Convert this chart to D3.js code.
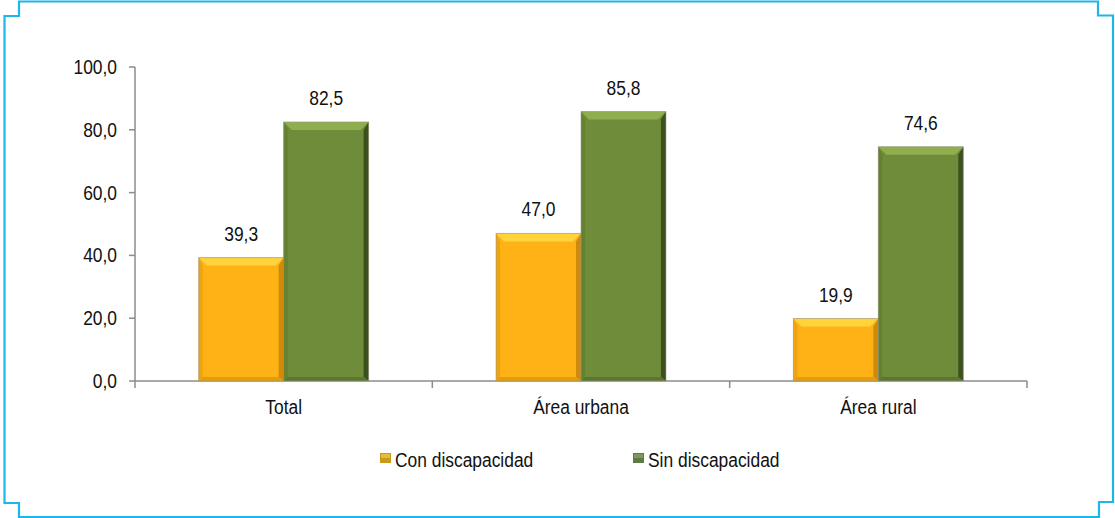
<!DOCTYPE html>
<html>
<head>
<meta charset="utf-8">
<script src="https://cdn.jsdelivr.net/npm/d3@7"></script>
<style>
  html, body { margin: 0; padding: 0; background: #fff; }
  svg { display: block; }
  text { font-family: "Liberation Sans", Arial, sans-serif; fill: #111; }
</style>
</head>
<body>
<svg id="chart" width="1115" height="518"></svg>
<script>
// ---- data ----
const categories = ["Total", "Área urbana", "Área rural"];
const seriesNames = ["Con discapacidad", "Sin discapacidad"];
const conDiscapacidad = [39.3, 47.0, 19.9];
const sinDiscapacidad = [82.5, 85.8, 74.6];
const yTicks = [0, 20, 40, 60, 80, 100];

const seriesValues = [conDiscapacidad, sinDiscapacidad];
const palette = [
  { main: "#FFB216", top: "#FFD33C", left: "#EDA410", right: "#CF8A08", bottom: "#E39C0B", legend: "#C89A1C" },
  { main: "#6F8C3A", top: "#8FAE4D", left: "#63812F", right: "#3C501F", bottom: "#5B7630", legend: "#5E7A45" }
];

const svg = d3.select("#chart");
const W = 1115, H = 518;
const fmt = v => v.toFixed(1).replace(".", ",");
const SX = 0.87;   // horizontal text compression
const FS = 20;

// frame
svg.append("path")
  .attr("d", "M19,1.5 H1098 V15.5 H1113 V502 H1099 V517 H19 V503 H4.5 V16 H19 Z")
  .attr("fill", "none").attr("stroke", "#1DB6EA").attr("stroke-width", 2.2);

const x0 = d3.scaleBand().domain(categories).range([135, 1027]).paddingInner(0).paddingOuter(0);
const x1 = d3.scaleBand().domain(seriesNames).range([0, x0.bandwidth()]).paddingInner(0).paddingOuter(0.75);
const y = d3.scaleLinear().domain([0, 100]).range([381, 67]);

function txt(g, x, yy, s, anchor) {
  return g.append("text")
    .attr("transform", `translate(${x},${yy}) scale(${SX},1)`)
    .attr("text-anchor", anchor)
    .attr("font-size", FS)
    .text(s);
}

// y axis
const axisColor = "#8C8C8C";
const gy = svg.append("g");
gy.append("line").attr("x1", 135).attr("x2", 135).attr("y1", y(100)).attr("y2", y(0))
  .attr("stroke", axisColor).attr("stroke-width", 1.5);
yTicks.forEach(t => {
  gy.append("line").attr("x1", 129).attr("x2", 135).attr("y1", y(t)).attr("y2", y(t))
    .attr("stroke", axisColor).attr("stroke-width", 1.5);
  txt(gy, 117, y(t) + 7, fmt(t), "end");
});

// x axis
const gx = svg.append("g");
gx.append("line").attr("x1", 135).attr("x2", 1027).attr("y1", y(0)).attr("y2", y(0))
  .attr("stroke", axisColor).attr("stroke-width", 1.5);
const bounds = categories.map(c => x0(c)).concat([x0(categories[categories.length - 1]) + x0.bandwidth()]);
bounds.forEach(bx => {
  gx.append("line").attr("x1", bx).attr("x2", bx).attr("y1", y(0)).attr("y2", y(0) + 7)
    .attr("stroke", axisColor).attr("stroke-width", 1.5);
});
categories.forEach(c => {
  txt(gx, x0(c) + x0.bandwidth() / 2, 414, c, "middle");
});

// bars with bevel
const gb = svg.append("g");
categories.forEach((c, ci) => {
  seriesNames.forEach((s, si) => {
    const v = seriesValues[si][ci];
    const bx = x0(c) + x1(s), bw = x1.bandwidth();
    const by = y(v), bb = y(0);
    const p = palette[si];
    const b = 8;
    const g = gb.append("g");
    g.append("rect").attr("x", bx).attr("y", by).attr("width", bw).attr("height", bb - by).attr("fill", p.main);
    // top bevel
    g.append("polygon").attr("points", `${bx},${by} ${bx + bw},${by} ${bx + bw - b},${by + b} ${bx + b},${by + b}`).attr("fill", p.top);
    // left bevel
    g.append("polygon").attr("points", `${bx},${by} ${bx + 4},${by + b} ${bx + 4},${bb - 4} ${bx},${bb}`).attr("fill", p.left);
    // right bevel
    g.append("polygon").attr("points", `${bx + bw},${by} ${bx + bw - 5},${by + b} ${bx + bw - 5},${bb - 4} ${bx + bw},${bb}`).attr("fill", p.right);
    // bottom bevel
    g.append("polygon").attr("points", `${bx},${bb} ${bx + 4},${bb - 4} ${bx + bw - 5},${bb - 4} ${bx + bw},${bb}`).attr("fill", p.bottom);
    g.append("rect").attr("x", bx).attr("y", by).attr("width", bw).attr("height", bb - by)
      .attr("fill", "none").attr("stroke", "#9a9a8a").attr("stroke-opacity", 0.6).attr("stroke-width", 1);
    txt(gb, bx + bw / 2, by - 17, fmt(v), "middle");
  });
});

// legend
const legendX = [380, 633];
const gl = svg.append("g");
seriesNames.forEach((s, i) => {
  gl.append("rect").attr("x", legendX[i]).attr("y", 453).attr("width", 11).attr("height", 10)
    .attr("fill", palette[i].legend);
  gl.append("rect").attr("x", legendX[i] + 1).attr("y", 454).attr("width", 9).attr("height", 4)
    .attr("fill", i === 0 ? "#E8BC3A" : "#7E9860");
  txt(gl, legendX[i] + 15, 467, s, "start");
});
</script>
</body>
</html>
